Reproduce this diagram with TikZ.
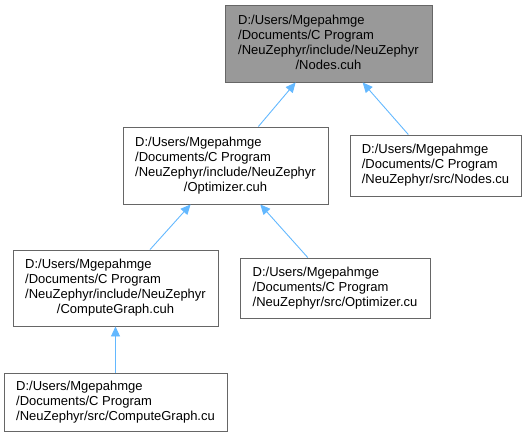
\documentclass[tikz,border=0pt]{standalone}
\usepackage{fontspec}
\setmainfont{Liberation Sans}
\usetikzlibrary{arrows.meta}
\definecolor{boxline}{HTML}{666666}
\definecolor{rootfill}{HTML}{999999}
\definecolor{edgeblue}{HTML}{63B8FF}
\newcommand{\lastrow}[1]{\multicolumn{1}{@{}c@{}}{#1}}

\begin{document}
\begin{tikzpicture}[
      x=1pt, y=-1pt,
      every node/.style={font=\fontsize{13}{15}\selectfont},
      file/.style={draw=boxline, line width=0.9pt, fill=white, inner sep=0pt, align=left},
      dep/.style={draw=edgeblue, line width=0.9pt, -{Triangle[length=10pt, width=9pt]}},
    ]
    \useasboundingbox (0,0) rectangle (527,437);

    % Root header
    \node[file, fill=rootfill, minimum width=207pt, minimum height=77pt] (nodesh) at (328.5, 43.5)
      {\begin{tabular}{@{}l@{}}D:/Users/Mgepahmge\\/Documents/C Program\\/NeuZephyr/include/NeuZephyr\\\lastrow{/Nodes.cuh}\end{tabular}};

    % Second level
    \node[file, minimum width=205pt, minimum height=77pt] (opth) at (225.5, 165.5)
      {\begin{tabular}{@{}l@{}}D:/Users/Mgepahmge\\/Documents/C Program\\/NeuZephyr/include/NeuZephyr\\\lastrow{/Optimizer.cuh}\end{tabular}};
    \node[file, minimum width=171pt, minimum height=61pt] (nodescu) at (435.5, 165.5)
      {\begin{tabular}{@{}l@{}}D:/Users/Mgepahmge\\/Documents/C Program\\/NeuZephyr/src/Nodes.cu\end{tabular}};

    % Third level
    \node[file, minimum width=205pt, minimum height=76pt] (cgh) at (115.5, 288)
      {\begin{tabular}{@{}l@{}}D:/Users/Mgepahmge\\/Documents/C Program\\/NeuZephyr/include/NeuZephyr\\\lastrow{/ComputeGraph.cuh}\end{tabular}};
    \node[file, minimum width=190pt, minimum height=60pt] (optcu) at (335, 288)
      {\begin{tabular}{@{}l@{}}D:/Users/Mgepahmge\\/Documents/C Program\\/NeuZephyr/src/Optimizer.cu\end{tabular}};

    % Bottom
    \node[file, minimum width=223pt, minimum height=58pt] (cgcu) at (115.5, 402)
      {\begin{tabular}{@{}l@{}}D:/Users/Mgepahmge\\/Documents/C Program\\/NeuZephyr/src/ComputeGraph.cu\end{tabular}};

    % Include edges
    \draw[dep] (opth) -- (nodesh);
    \draw[dep] (nodescu) -- (nodesh);
    \draw[dep] (cgh) -- (opth);
    \draw[dep] (optcu) -- (opth);
    \draw[dep] (cgcu) -- (cgh);
  \end{tikzpicture}
\end{document}
